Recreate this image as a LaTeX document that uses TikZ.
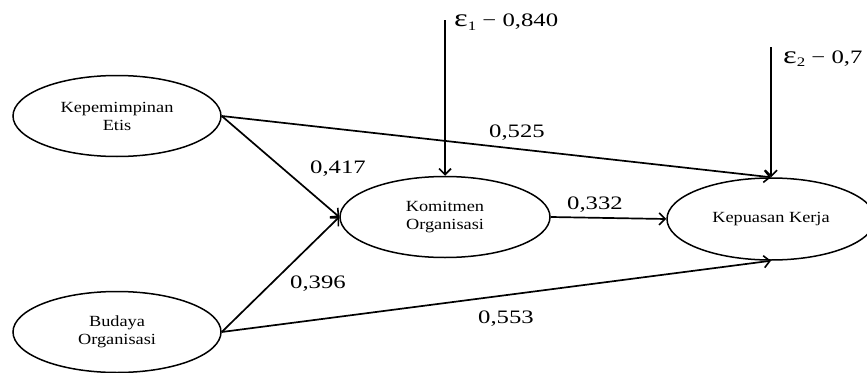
\documentclass[tikz,border=0pt]{standalone}
\usepackage{fontspec}
\setmainfont{Liberation Serif}[FakeStretch=1.18]
\newfontfamily\numfont{Liberation Serif}[FakeStretch=1.3]
\usetikzlibrary{arrows.meta,shapes.geometric}
\tikzset{
  var/.style={draw, ellipse, line width=1.5pt, inner sep=0pt, minimum width=208pt, minimum height=81pt, align=center, font=\fontsize{15.5}{18}\selectfont},
  link/.style={line width=1.7pt, -{Straight Barb[length=6pt,width=12pt,line width=1.6pt]}},
  coef/.style={anchor=base west, inner sep=0pt, font=\numfont\fontsize{19}{20}\selectfont},
}
\newcommand{\epsl}[1]{{\fontsize{25}{25}\selectfont ε}\raisebox{-0.35ex}{\fontsize{13}{13}\selectfont #1}}
\begin{document}
\begin{tikzpicture}[x=1pt,y=-1pt]
\useasboundingbox (0,0) rectangle (867,372);
\node[var] (kep) at (117,116) {Kepemimpinan\\Etis};
\node[var] (bud) at (117,332) {Budaya\\Organisasi};
\node[var, minimum width=210pt] (kom) at (445,217) {Komitmen\\Organisasi};
\node[var, minimum height=82pt] (kpu) at (771,219) {Kepuasan Kerja};
\coordinate (e1) at (445,20);
\coordinate (e2) at (771,47);
\draw[link] (kep.east) -- (kom.west);
\draw[link] (kep.east) -- (kpu.north);
\draw[link] (bud.east) -- (kom.west);
\draw[link] (bud.east) -- (kpu.south);
\draw[link] (kom.east) -- (kpu.west);
\draw[link] (e1) -- (kom.north);
\draw[link] (e2) -- (kpu.north);
\node[coef] (l1) at (454,27) {\epsl{1} − 0,840};
\node[coef] (l2) at (783,63) {\epsl{2} − 0,7};
\node[coef] (c525) at (489,137) {0,525};
\node[coef] (c417) at (310,173) {0,417};
\node[coef] (c332) at (567,209) {0,332};
\node[coef] (c396) at (290,288) {0,396};
\node[coef] (c553) at (478,323) {0,553};
\end{tikzpicture}
\end{document}
